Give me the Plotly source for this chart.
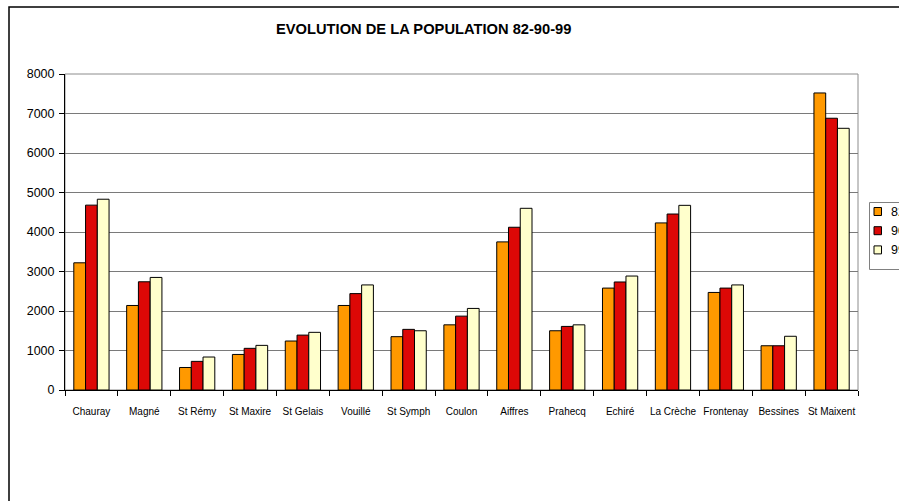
import plotly.graph_objects as go

# Communes and population counts for the three census years
communes = ["Chauray", "Magné", "St Rémy", "St Maxire", "St Gelais", "Vouillé",
            "St Symph", "Coulon", "Aiffres", "Prahecq", "Echiré", "La Crèche",
            "Frontenay", "Bessines", "St Maixent"]
pop_82 = [3220, 2140, 570, 900, 1240, 2140, 1350, 1650, 3750, 1500, 2580, 4230, 2470, 1120, 7520]
pop_90 = [4680, 2740, 725, 1055, 1390, 2440, 1535, 1870, 4120, 1610, 2735, 4455, 2580, 1120, 6880]
pop_99 = [4830, 2850, 835, 1130, 1460, 2660, 1500, 2065, 4600, 1650, 2885, 4675, 2660, 1360, 6625]
series_names = ["82", "90", "99"]
series_colors = ["#FF9900", "#DD0806", "#FFFFCC"]
y_ticks = [0, 1000, 2000, 3000, 4000, 5000, 6000, 7000, 8000]
title_text = "EVOLUTION DE LA POPULATION 82-90-99"

W, H = 899, 501
L, R, T, B = 65, 41, 74, 111
PW, PH = W - L - R, H - T - B


def px(x):
    return (x - L) / PW


def py(y):
    return (H - B - y) / PH


FONT = "Liberation Sans, Arial, sans-serif"

fig = go.Figure()
for name, vals, col in zip(series_names, [pop_82, pop_90, pop_99], series_colors):
    fig.add_trace(go.Bar(
        x=communes, y=vals, name=name,
        marker=dict(color=col, line=dict(color="#000000", width=1)),
        showlegend=False,
    ))

shapes = [
    # outer chart frame
    dict(type="rect", xref="paper", yref="paper", x0=px(9), x1=px(910), y0=py(520), y1=py(7),
         line=dict(color="#000000", width=1.5), layer="below"),
    # plot-area outline
    dict(type="rect", xref="paper", yref="paper", x0=0, x1=1, y0=0, y1=1,
         line=dict(color="#8c8c8c", width=1), layer="below"),
    # legend box
    dict(type="rect", xref="paper", yref="paper", x0=px(869.5), x1=px(930), y0=py(269.5), y1=py(202.5),
         line=dict(color="#808080", width=1), fillcolor="#ffffff"),
]
annotations = [
    dict(text="<b>" + title_text + "</b>", xref="paper", yref="paper", x=px(423), y=py(29),
         xanchor="center", yanchor="middle", showarrow=False,
         font=dict(family=FONT, size=14.7, color="#000000")),
]
for i, (name, col) in enumerate(zip(series_names, series_colors)):
    cy = 211.5 + i * 19.2
    shapes.append(dict(type="rect", xref="paper", yref="paper",
                       x0=px(874), x1=px(881.5), y0=py(cy + 4), y1=py(cy - 4),
                       line=dict(color="#000000", width=1), fillcolor=col))
    annotations.append(dict(text=name, xref="paper", yref="paper", x=px(889), y=py(cy),
                            xanchor="left", yanchor="middle", showarrow=False,
                            font=dict(family=FONT, size=12.5, color="#000000")))

fig.update_layout(
    width=W, height=H,
    margin=dict(l=L, r=R, t=T, b=B, pad=0),
    paper_bgcolor="#ffffff", plot_bgcolor="#ffffff",
    barmode="group", bargap=0.333, bargroupgap=0,
    font=dict(family=FONT, color="#000000"),
    shapes=shapes, annotations=annotations,
    showlegend=False,
)
fig.update_xaxes(
    type="category", showgrid=False, showline=True, linecolor="#000000", linewidth=1,
    ticks="outside", tickson="boundaries", ticklen=5, tickcolor="#000000",
    tickangle=0,
    tickfont=dict(family=FONT, size=10, color="#000000"), ticklabelstandoff=12,
)
fig.update_yaxes(
    range=[0, 8000], tickvals=y_ticks, ticktext=[str(v) for v in y_ticks],
    showgrid=True, gridcolor="#7a7a7a", gridwidth=1, zeroline=False,
    showline=True, linecolor="#000000", linewidth=1,
    ticks="outside", ticklen=5, tickcolor="#000000",
    tickfont=dict(family=FONT, size=12.5, color="#000000"), ticklabelstandoff=2,
)

fig.write_html("out.html", config={"displayModeBar": False})
